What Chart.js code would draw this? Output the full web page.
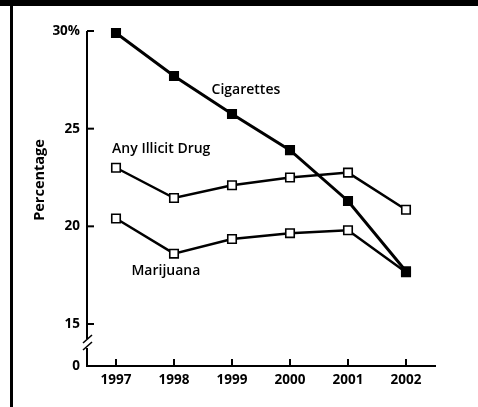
<!DOCTYPE html>
<html>
<head>
<meta charset="utf-8">
<script src="https://cdn.jsdelivr.net/npm/chart.js@4"></script>
<style>
  html, body { margin: 0; padding: 0; background: #fff; }
  #wrap { position: relative; width: 478px; height: 407px; overflow: hidden; background: #fff; }
  #topbar { position: absolute; left: 0; top: 0; width: 478px; height: 6px; background: #000; }
  #leftbar { position: absolute; left: 10px; top: 0; width: 3px; height: 407px; background: #000; }
  canvas { position: absolute; left: 0; top: 0; }
</style>
</head>
<body>
<div id="wrap">
  <canvas id="c" width="478" height="407"></canvas>
  <div id="topbar"></div>
  <div id="leftbar"></div>
</div>
<script>
const years = ['1997', '1998', '1999', '2000', '2001', '2002'];
const cigarettes = [29.9, 27.7, 25.75, 23.9, 21.3, 17.7];
const anyIllicitDrug = [23.0, 21.45, 22.1, 22.5, 22.75, 20.85];
const marijuana = [20.4, 18.6, 19.35, 19.65, 19.8, 17.65];
const yTickValues = [15, 20, 25, 30];
const yBreakBase = 12.85; // position of the "0" label below the axis break
const seriesNames = ['Cigarettes', 'Any Illicit Drug', 'Marijuana'];

const FONT = '"Open Sans", "DejaVu Sans", sans-serif';

const labelPos = [
  { text: seriesNames[0], xi: 2.24, v: 27.0 },
  { text: seriesNames[1], xi: 0.78, v: 23.96 },
  { text: seriesNames[2], xi: 0.86, v: 17.7 }
];

const decorPlugin = {
  id: 'decor',
  afterDraw(chart) {
    const ctx = chart.ctx;
    const xs = chart.scales.x, ys = chart.scales.y;
    const ax = chart.chartArea.left, bottom = chart.chartArea.bottom;
    ctx.save();
    ctx.strokeStyle = '#000';
    ctx.lineWidth = 2;
    ctx.lineCap = 'butt';
    // y axis line with break
    const yTop = ys.getPixelForValue(30);
    ctx.beginPath();
    ctx.moveTo(ax, yTop);
    ctx.lineTo(ax, 339);
    ctx.stroke();
    ctx.beginPath();
    ctx.moveTo(ax, 348);
    ctx.lineTo(ax, bottom);
    ctx.stroke();
    // break slashes
    ctx.lineWidth = 1.6;
    ctx.beginPath();
    ctx.moveTo(ax - 4, 343); ctx.lineTo(ax + 5, 335);
    ctx.moveTo(ax - 4, 350); ctx.lineTo(ax + 5, 342);
    ctx.stroke();
    // y ticks (inward)
    ctx.lineWidth = 2;
    yTickValues.forEach(v => {
      const p = ys.getPixelForValue(v);
      ctx.beginPath();
      ctx.moveTo(ax, p);
      ctx.lineTo(ax + 7, p);
      ctx.stroke();
    });
    // x ticks (inward)
    years.forEach((y, i) => {
      const p = xs.getPixelForValue(i);
      ctx.beginPath();
      ctx.moveTo(p, bottom);
      ctx.lineTo(p, bottom - 7);
      ctx.stroke();
    });
    // series labels
    ctx.fillStyle = '#000';
    ctx.font = '600 14px ' + FONT;
    ctx.textAlign = 'center';
    ctx.textBaseline = 'middle';
    labelPos.forEach(l => {
      ctx.fillText(l.text, xs.getPixelForValue(l.xi), ys.getPixelForValue(l.v));
    });
    // axis title
    ctx.translate(40, 180);
    ctx.rotate(-Math.PI / 2);
    ctx.font = '700 14.5px ' + FONT;
    ctx.fillText('Percentage', 0, 0);
    ctx.restore();
  }
};

new Chart(document.getElementById('c'), {
  type: 'line',
  data: {
    labels: years,
    datasets: [
      {
        label: seriesNames[2], data: marijuana,
        borderColor: '#000', borderWidth: 2.5,
        pointStyle: 'rect', pointRadius: 6, pointBorderWidth: 1.6,
        pointBackgroundColor: '#fff', pointBorderColor: '#000',
        tension: 0, clip: false, order: 3
      },
      {
        label: seriesNames[1], data: anyIllicitDrug,
        borderColor: '#000', borderWidth: 2.5,
        pointStyle: 'rect', pointRadius: 6, pointBorderWidth: 1.6,
        pointBackgroundColor: '#fff', pointBorderColor: '#000',
        tension: 0, clip: false, order: 2
      },
      {
        label: seriesNames[0], data: cigarettes,
        borderColor: '#000', borderWidth: 3,
        pointStyle: 'rect', pointRadius: 6, pointBorderWidth: 1.6,
        pointBackgroundColor: '#000', pointBorderColor: '#000',
        tension: 0, clip: false, order: 1
      }
    ]
  },
  options: {
    responsive: false,
    animation: false,
    devicePixelRatio: 1,
    layout: { padding: { top: 31, right: 43, left: 0, bottom: 0 } },
    plugins: { legend: { display: false }, tooltip: { enabled: false } },
    scales: {
      x: {
        offset: true,
        grid: { display: false, drawTicks: false },
        border: { display: true, color: '#000', width: 2 },
        ticks: { color: '#000', padding: 6, font: { family: FONT, size: 13.5, weight: '700' }, maxRotation: 0 },
        afterFit(s) { s.height = 41; }
      },
      y: {
        min: yBreakBase, max: 30,
        grid: { display: false, drawTicks: false },
        border: { display: false },
        afterBuildTicks(s) {
          s.ticks = [yBreakBase].concat(yTickValues).map(v => ({ value: v }));
        },
        ticks: {
          color: '#000', padding: 7,
          font: { family: FONT, size: 13.5, weight: '700' },
          callback(v) {
            if (v === yBreakBase) return '0';
            if (v === 30) return '30%';
            return String(v);
          }
        },
        afterFit(s) { s.width = 87; }
      }
    }
  },
  plugins: [decorPlugin]
});
</script>
</body>
</html>
